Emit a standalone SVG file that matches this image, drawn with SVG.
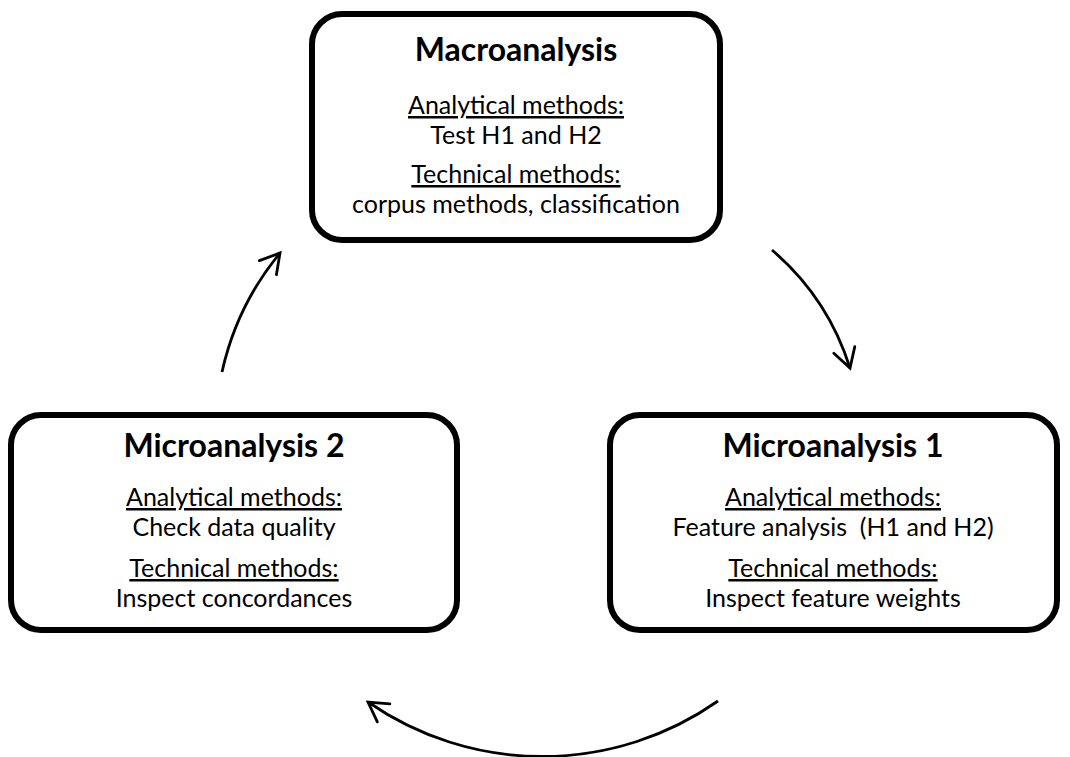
<svg xmlns="http://www.w3.org/2000/svg" width="1070" height="757" viewBox="0 0 1070 757">
  <defs>
    <marker id="open" markerUnits="userSpaceOnUse" viewBox="-24 -14 28 28" refX="0" refY="0" markerWidth="28" markerHeight="28" orient="auto">
      <path d="M -19 -11 L 0 0 L -19 11" fill="none" stroke="#000" stroke-width="2.8" stroke-linecap="round" stroke-linejoin="miter"/>
    </marker>
  </defs>
  <style>
    .box { fill: #fff; stroke: #000; stroke-width: 6; }
    .title { font-family: Lato, "Liberation Sans", sans-serif; font-weight: bold; font-size: 32px; text-anchor: middle; fill: #000; }
    .body { font-family: Lato, "Liberation Sans", sans-serif; font-size: 25px; text-anchor: middle; fill: #000; }
    .u { text-decoration: underline; }
    .conn { fill: none; stroke: #000; stroke-width: 2.8; marker-end: url(#open); }
  </style>
  <rect width="1070" height="757" fill="#fff"/>

  <g id="macroanalysis">
    <rect class="box" x="312" y="14" width="408" height="226" rx="30" ry="30"/>
    <text class="title" x="516" y="61">Macroanalysis</text>
    <text class="body u" x="516" y="114">Analytical methods:</text>
    <text class="body" x="516" y="144">Test H1 and H2</text>
    <text class="body u" x="516" y="183">Technical methods:</text>
    <text class="body" x="516" y="213">corpus methods, classification</text>
  </g>

  <g id="microanalysis2">
    <rect class="box" x="11" y="415" width="446" height="215" rx="30" ry="30"/>
    <text class="title" x="234" y="457">Microanalysis 2</text>
    <text class="body u" x="234" y="506">Analytical methods:</text>
    <text class="body" x="234" y="536">Check data quality</text>
    <text class="body u" x="234" y="577">Technical methods:</text>
    <text class="body" x="234" y="607">Inspect concordances</text>
  </g>

  <g id="microanalysis1">
    <rect class="box" x="610" y="415" width="447" height="215" rx="30" ry="30"/>
    <text class="title" x="833" y="457">Microanalysis 1</text>
    <text class="body u" x="833" y="506">Analytical methods:</text>
    <text class="body" x="833" y="536" style="white-space:pre">Feature analysis  (H1 and H2)</text>
    <text class="body u" x="833" y="577">Technical methods:</text>
    <text class="body" x="833" y="607">Inspect feature weights</text>
  </g>

  <g id="connectors">
    <path class="conn" d="M 772 250 A 257 257 0 0 1 850 368"/>
    <path class="conn" d="M 718 701 A 306 306 0 0 1 368 702"/>
    <path class="conn" d="M 222 372 A 283 283 0 0 1 280 253"/>
  </g>
</svg>
